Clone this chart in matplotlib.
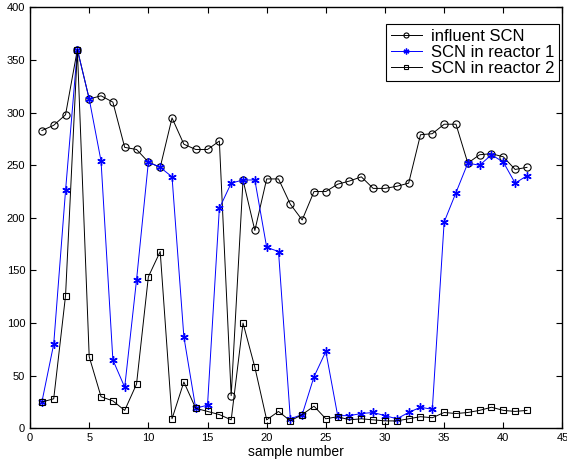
import matplotlib
matplotlib.use("Agg")
import matplotlib.pyplot as plt

plt.rcParams["font.family"] = ["Liberation Sans", "DejaVu Sans"]

sample = list(range(1, 43))

influent = [283, 288, 298, 360, 313, 316, 310, 267, 265, 253,
            248, 295, 270, 265, 265, 273, 31, 236, 188, 237,
            237, 213, 198, 225, 225, 232, 235, 239, 228, 228,
            230, 233, 279, 280, 289, 289, 252, 260, 261, 258,
            246, 248]

reactor1 = [25, 80, 226, 360, 313, 254, 65, 39, 141, 253,
            248, 239, 87, 19, 22, 209, 233, 236, 236, 172,
            168, 9, 13, 49, 73, 12, 12, 14, 15, 12,
            9, 15, 20, 18, 196, 224, 252, 250, 260, 253,
            233, 240]

reactor2 = [25, 28, 126, 360, 68, 30, 26, 17, 42, 144,
            168, 9, 44, 19, 16, 13, 8, 100, 58, 8,
            16, 7, 13, 21, 9, 11, 8, 9, 8, 7,
            7, 9, 11, 10, 15, 14, 15, 17, 20, 17,
            16, 17]

fig = plt.figure(figsize=(5.67, 4.65), dpi=100)
ax = fig.add_axes([0.053, 0.079, 0.939, 0.905])

# asterisk marker like the old matlab '*'
asterisk = (6, 2, 0)

ax.plot(sample, influent, "-", marker="o", color="black", lw=0.7, ms=5.2,
        mfc="none", mew=0.8, label="influent SCN")
ax.plot(sample, reactor1, "-", marker=asterisk, color="blue", lw=0.7,
        ms=6, mew=1.0, label="SCN in reactor 1")
ax.plot(sample, reactor2, "-", marker="s", color="black", lw=0.7, ms=4.5,
        mfc="none", mew=0.8, label="SCN in reactor 2")

ax.set_xlim(0, 45)
ax.set_ylim(0, 400)
ax.set_xticks(range(0, 46, 5))
ax.set_yticks(range(0, 401, 50))
ax.tick_params(direction="in", top=True, right=True, labelsize=8,
               length=4, width=0.8)
for s in ax.spines.values():
    s.set_linewidth(1.0)

ax.set_xlabel("sample number", fontsize=10, labelpad=1)

leg = ax.legend(loc="upper right", bbox_to_anchor=(0.986, 0.948),
                bbox_transform=fig.transFigure, borderaxespad=0,
                fontsize=12, fancybox=False, edgecolor="black",
                framealpha=1, handlelength=1.9, labelspacing=0.05,
                handletextpad=0.5, borderpad=0.3, markerscale=0.7)
leg.get_frame().set_linewidth(0.8)

fig.savefig("out.png", dpi=100)
